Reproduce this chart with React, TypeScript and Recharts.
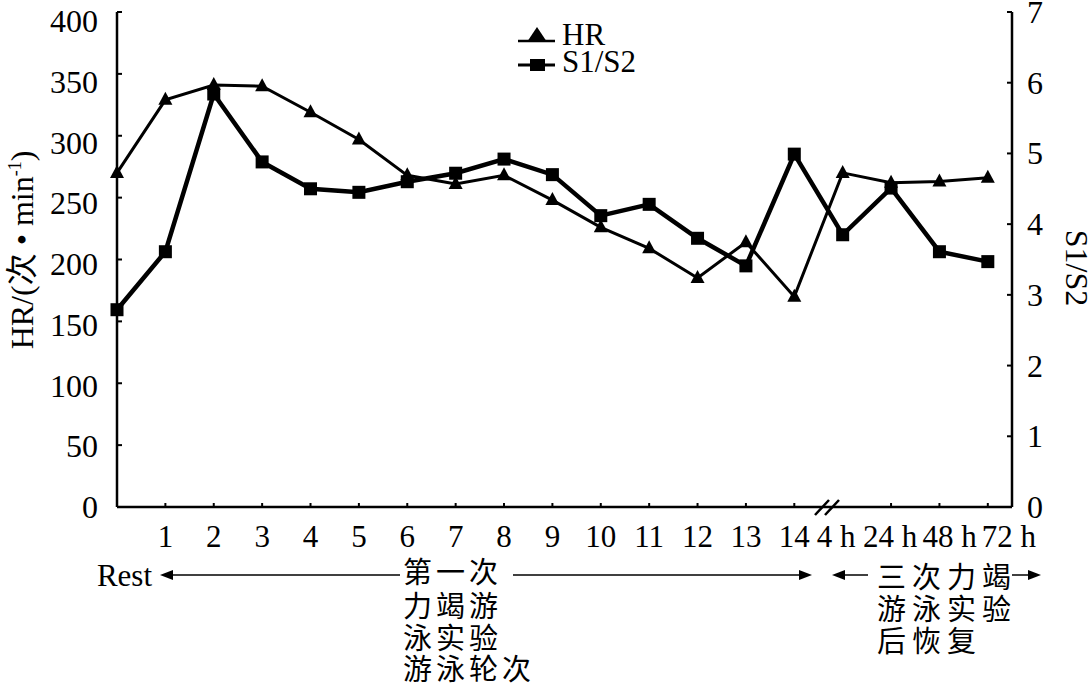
import React from "react";
import {
  LineChart,
  Line,
  XAxis,
  YAxis,
} from "recharts";

// x positions: 0 = Rest, 1..14 = swim rounds, 15..18 = recovery (4 h .. 72 h)
const periods = [
  "Rest", "1", "2", "3", "4", "5", "6", "7", "8", "9", "10", "11", "12", "13", "14",
  "4 h", "24 h", "48 h", "72 h",
];
const hrValues = [
  270, 329, 341, 340, 319, 297, 268, 261, 268, 248, 226, 209, 185, 214, 170,
  270, 262, 263, 266,
];
const s1s2Values = [
  2.79, 3.61, 5.84, 4.88, 4.5, 4.45, 4.6, 4.72, 4.92, 4.7, 4.12, 4.28, 3.8, 3.41, 4.99,
  3.85, 4.51, 3.61, 3.47,
];
const hrTicks = [0, 50, 100, 150, 200, 250, 300, 350, 400];
const ratioTicks = [0, 1, 2, 3, 4, 5, 6, 7];
const xTicks = [1, 2, 3, 4, 5, 6, 7, 8, 9, 10, 11, 12, 13, 14, 15, 16, 17, 18];
const breakIndex = 15;

const data = periods.map((p, i) => ({ x: i, name: p, hr: hrValues[i], ratio: s1s2Values[i] }));

const FONT = "'Liberation Serif', 'Noto Sans CJK SC', serif";
const CJK = "'Noto Sans CJK SC', sans-serif";

// the recovery labels are set as one run of text, left-aligned near their tick
const recoveryLabelDx = [-26, -28, -17, -6];

const XTick = (props: any) => {
  const { x, y, payload } = props;
  const i = payload.value;
  const isRecovery = i >= breakIndex;
  return (
    <g>
      {i !== breakIndex && (
        <line x1={x} x2={x} y1={y - 4} y2={y} stroke="#000" strokeWidth={2} />
      )}
      <text
        x={isRecovery ? x + recoveryLabelDx[i - breakIndex] : x}
        y={y + 40}
        textAnchor={isRecovery ? "start" : "middle"}
        fontFamily={FONT}
        fontSize={31}
        fill="#000"
      >
        {periods[i]}
      </text>
    </g>
  );
};

const LeftTick = (props: any) => {
  const { x, y, payload } = props;
  const shift = (payload.value / 400) * 9;
  return (
    <g>
      <line x1={x} x2={x + 5} y1={y} y2={y} stroke="#000" strokeWidth={2} />
      <text x={x - 19} y={y + 11 + shift} textAnchor="end" fontFamily={FONT} fontSize={32} fill="#000">
        {payload.value}
      </text>
    </g>
  );
};

const RightTick = (props: any) => {
  const { x, y, payload } = props;
  return (
    <g>
      <line x1={x - 5} x2={x} y1={y} y2={y} stroke="#000" strokeWidth={2} />
      <text x={x + 15} y={y + 11} textAnchor="start" fontFamily={FONT} fontSize={32} fill="#000">
        {payload.value}
      </text>
    </g>
  );
};

const TriangleDot = (props: any) => {
  const { cx, cy, index } = props;
  return (
    <path
      key={`hr-${index}`}
      d={`M${cx},${cy - 8} L${cx + 7},${cy + 5} L${cx - 7},${cy + 5} Z`}
      fill="#000"
    />
  );
};

const SquareDot = (props: any) => {
  const { cx, cy, index } = props;
  return <rect key={`s-${index}`} x={cx - 6.5} y={cy - 6.5} width={13} height={13} fill="#000" />;
};

const Arrow = ({ x, y, dir }: { x: number; y: number; dir: 1 | -1 }) => (
  <path d={`M${x},${y} L${x - dir * 13},${y - 5} L${x - dir * 13},${y + 5} Z`} fill="#000" />
);

export default function App() {
  return (
    <div style={{ position: "absolute", left: 0, top: 0, width: 1090, height: 684, background: "#fff" }}>
      <LineChart
        width={1090}
        height={684}
        data={data}
        margin={{ top: 12, right: 0, bottom: 0, left: 0 }}
      >
        <XAxis
          dataKey="x"
          type="number"
          domain={[0, 18.5]}
          ticks={xTicks}
          interval={0}
          height={177}
          tickSize={0}
          tickMargin={0}
          tick={<XTick />}
          axisLine={{ stroke: "#000", strokeWidth: 2.5 }}
        />
        <YAxis
          yAxisId="hr"
          domain={[0, 400]}
          ticks={hrTicks}
          width={117}
          tickSize={0}
          tickMargin={0}
          tick={<LeftTick />}
          axisLine={{ stroke: "#000", strokeWidth: 2.5 }}
        />
        <YAxis
          yAxisId="ratio"
          orientation="right"
          domain={[0, 7]}
          ticks={ratioTicks}
          width={78}
          tickSize={0}
          tickMargin={0}
          tick={<RightTick />}
          axisLine={{ stroke: "#000", strokeWidth: 2.5 }}
        />
        <Line
          yAxisId="hr"
          dataKey="hr"
          name="HR"
          stroke="#000"
          strokeWidth={3}
          dot={TriangleDot}
          activeDot={false}
          isAnimationActive={false}
        />
        <Line
          yAxisId="ratio"
          dataKey="ratio"
          name="S1/S2"
          stroke="#000"
          strokeWidth={4.5}
          dot={SquareDot}
          activeDot={false}
          isAnimationActive={false}
        />
      </LineChart>
      <svg
        width={1090}
        height={684}
        style={{ position: "absolute", left: 0, top: 0, pointerEvents: "none" }}
      >
        {/* legend */}
        <g transform="translate(515,22)">
          <line x1={3} x2={40} y1={19} y2={19} stroke="#000" strokeWidth={2.5} />
          <path d="M22,5 L32,20 L12,20 Z" fill="#000" />
          <text x={47} y={23} fontFamily={FONT} fontSize={31} fill="#000">HR</text>
          <line x1={3} x2={40} y1={43} y2={43} stroke="#000" strokeWidth={3} />
          <rect x={15} y={37} width={15} height={12} fill="#000" />
          <text x={47} y={50} fontFamily={FONT} fontSize={31} fill="#000">S1/S2</text>
        </g>

        {/* axis break */}
        <line x1={815} y1={515} x2={829} y2={500} stroke="#000" strokeWidth={2.5} />
        <line x1={825} y1={515} x2={839} y2={500} stroke="#000" strokeWidth={2.5} />

        {/* axis titles */}
        <text
          transform="translate(33,250) rotate(-90)"
          textAnchor="middle"
          fontFamily={FONT}
          fontSize={32}
          fill="#000"
        >
          HR/(<tspan fontFamily={CJK}>次</tspan> • min<tspan dy={-12} fontSize={18}>-1</tspan>
          <tspan dy={12}>)</tspan>
        </text>
        <text
          transform="translate(1066,268) rotate(90)"
          textAnchor="middle"
          fontFamily={FONT}
          fontSize={32}
          fill="#000"
        >
          S1/S2
        </text>

        {/* phase annotations */}
        <text x={152} y={586} textAnchor="end" fontFamily={FONT} fontSize={31} fill="#000">Rest</text>
        <line x1={165} x2={400} y1={575} y2={575} stroke="#000" strokeWidth={1.5} />
        <Arrow x={160} y={575} dir={-1} />
        <line x1={513} x2={805} y1={575} y2={575} stroke="#000" strokeWidth={1.5} />
        <Arrow x={812} y={575} dir={1} />
        <g fontFamily={CJK} fontSize={29} fill="#000" letterSpacing={4}>
          <text x={403} y={570} dominantBaseline="central">第一次</text>
          <text x={403} y={604} dominantBaseline="central">力竭游</text>
          <text x={403} y={636} dominantBaseline="central">泳实验</text>
          <text x={403} y={667} dominantBaseline="central">游泳轮次</text>
        </g>

        <line x1={838} x2={868} y1={575} y2={575} stroke="#000" strokeWidth={1.5} />
        <Arrow x={832} y={575} dir={-1} />
        <line x1={1012} x2={1035} y1={575} y2={575} stroke="#000" strokeWidth={1.5} />
        <Arrow x={1041} y={575} dir={1} />
        <g fontFamily={CJK} fontSize={29} fill="#000" letterSpacing={6}>
          <text x={877} y={575} dominantBaseline="central">三次力竭</text>
          <text x={877} y={607} dominantBaseline="central">游泳实验</text>
          <text x={877} y={639} dominantBaseline="central">后恢复</text>
        </g>
      </svg>
    </div>
  );
}
